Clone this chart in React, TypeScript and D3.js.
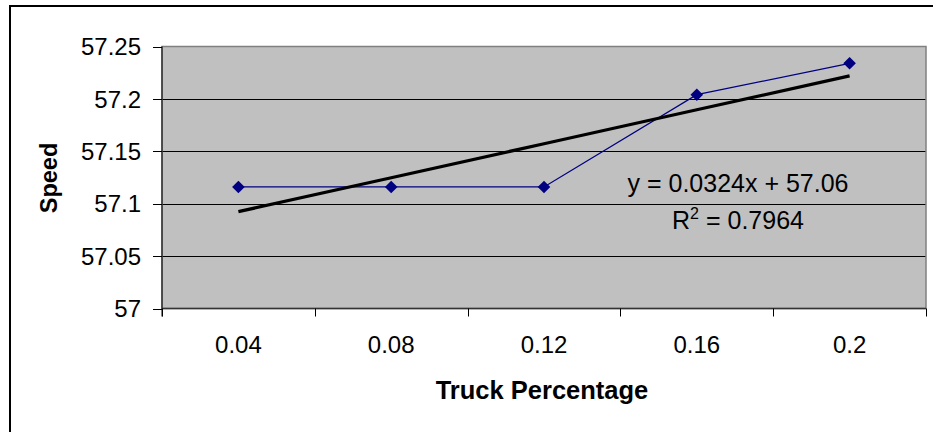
import React from "react";
import * as d3 from "d3";

const categories = ["0.04", "0.08", "0.12", "0.16", "0.2"];
const speeds = [57.116, 57.116, 57.116, 57.204, 57.234];
const yTicks = [57, 57.05, 57.1, 57.15, 57.2, 57.25];
const yTickLabels = ["57", "57.05", "57.1", "57.15", "57.2", "57.25"];

const W = 933;
const H = 432;
const plot = { left: 162, right: 926, top: 46.5, bottom: 308.5 };
const FONT = "'Liberation Sans', Arial, sans-serif";

export default function App() {
  const x = d3.scaleBand<string>().domain(categories).range([plot.left, plot.right]).padding(0);
  const y = d3.scaleLinear().domain([57, 57.25]).range([plot.bottom, plot.top]);
  const cx = (c: string) => (x(c) as number) + x.bandwidth() / 2;

  // linear regression on category index (1..n)
  const xs = speeds.map((_, i) => i + 1);
  const mx = d3.mean(xs) as number;
  const my = d3.mean(speeds) as number;
  let sxy = 0, sxx = 0;
  xs.forEach((xi, i) => { sxy += (xi - mx) * (speeds[i] - my); sxx += (xi - mx) ** 2; });
  const slope = sxy / sxx;
  const intercept = my - slope * mx;
  const fit = (i: number) => intercept + slope * i;
  const r2 = (sxy * sxy) / (sxx * (d3.sum(speeds, (v) => (v - my) ** 2) as number));

  const line = d3.line<number>().x((_, i) => cx(categories[i])).y((v) => y(v));
  const trend = d3.line<number>().x((i) => cx(categories[i - 1])).y((i) => y(fit(i)));
  const r = 6.3;
  const diamond = `M0,${-r}L${r},0L0,${r}L${-r},0Z`;

  const bandEdges = categories.map((c) => x(c) as number).concat([plot.right]);

  return (
    <svg width={W} height={H} style={{ position: "absolute", left: 0, top: 0, background: "#fff" }} fontFamily={FONT}>
      <rect x={0} y={0} width={W} height={H} fill="#fff" />
      <rect x={10} y={6} width={W + 20} height={H + 20} fill="none" stroke="#000" strokeWidth={2} />
      <rect x={plot.left} y={plot.top} width={plot.right - plot.left} height={plot.bottom - plot.top} fill="#C0C0C0" />
      {yTicks.slice(1, -1).map((t) => (
        <line key={t} x1={plot.left} x2={plot.right} y1={Math.round(y(t)) + 0.5} y2={Math.round(y(t)) + 0.5} stroke="#000" strokeWidth={1} />
      ))}
      <rect x={plot.left} y={plot.top} width={plot.right - plot.left} height={plot.bottom - plot.top} fill="none" stroke="#808080" strokeWidth={1.5} />
      {/* y axis */}
      <line x1={plot.left} x2={plot.left} y1={plot.top} y2={plot.bottom + 8} stroke="#000" strokeWidth={1} />
      {yTicks.map((t, i) => (
        <g key={t}>
          <line x1={plot.left - 9} x2={plot.left} y1={Math.round(y(t)) + 0.5} y2={Math.round(y(t)) + 0.5} stroke="#000" strokeWidth={1} />
          <text x={141} y={y(t)} dy="0.36em" textAnchor="end" fontSize={24} fill="#000">{yTickLabels[i]}</text>
        </g>
      ))}
      {/* x axis */}
      <line x1={plot.left} x2={plot.right} y1={plot.bottom} y2={plot.bottom} stroke="#333" strokeWidth={1.5} />
      {bandEdges.map((e, i) => (
        <line key={i} x1={Math.round(e) + 0.5} x2={Math.round(e) + 0.5} y1={plot.bottom} y2={plot.bottom + 8} stroke="#000" strokeWidth={1} />
      ))}
      {categories.map((c) => (
        <text key={c} x={cx(c)} y={353} textAnchor="middle" fontSize={24} fill="#000">{c}</text>
      ))}
      {/* data */}
      <path d={line(speeds) as string} fill="none" stroke="#000080" strokeWidth={1.3} />
      {speeds.map((v, i) => (
        <path key={i} d={diamond} transform={`translate(${cx(categories[i])},${y(v)})`} fill="#000080" />
      ))}
      <path d={trend(xs) as string} fill="none" stroke="#000" strokeWidth={3.2} />
      {/* equation */}
      <text x={738} y={192} textAnchor="middle" fontSize={25} fill="#000">
        {`y = ${slope.toFixed(4)}x + ${intercept.toFixed(2)}`}
      </text>
      <text x={738} y={229} textAnchor="middle" fontSize={25} fill="#000">
        R<tspan dy={-10} fontSize={16}>2</tspan><tspan dy={10}>{` = ${r2.toFixed(4)}`}</tspan>
      </text>
      {/* axis titles */}
      <text x={542} y={399} textAnchor="middle" fontSize={25.5} fontWeight="bold" fill="#000">Truck Percentage</text>
      <text transform={`translate(57,178) rotate(-90)`} textAnchor="middle" fontSize={23.5} fontWeight="bold" fill="#000">Speed</text>
    </svg>
  );
}
